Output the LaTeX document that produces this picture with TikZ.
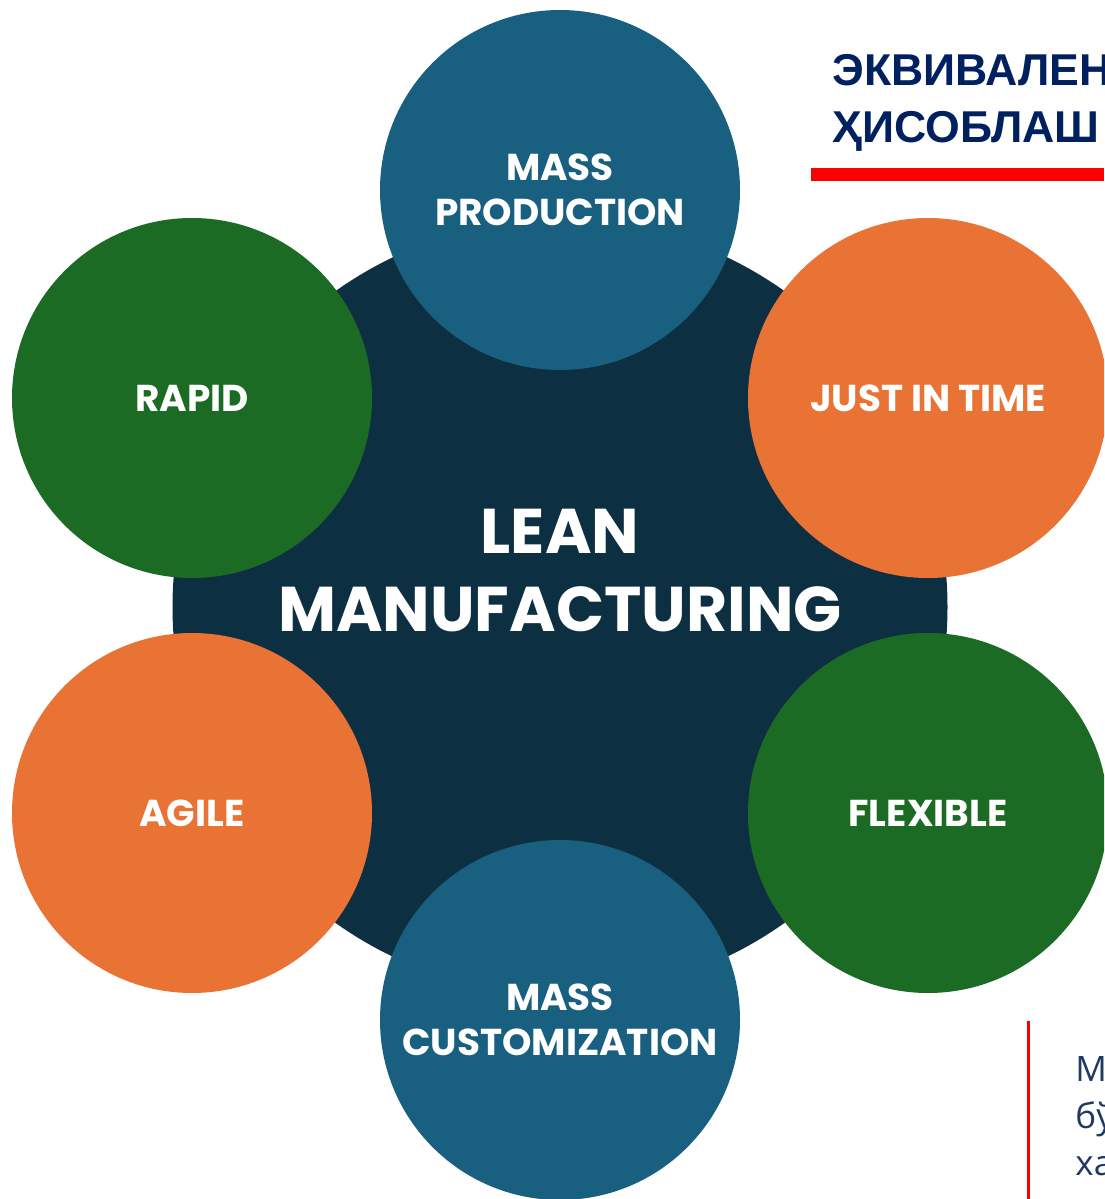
\documentclass[tikz,border=0pt]{standalone}
\usepackage{fontspec}
\setmainfont{Poppins}
\newfontfamily\headfont{Liberation Sans}
\newfontfamily\notefont{Open Sans}

\definecolor{hubdark}{HTML}{0D2F42}
\definecolor{massblue}{HTML}{185F80}
\definecolor{leafgreen}{HTML}{1C6B24}
\definecolor{rustorange}{HTML}{E87334}
\definecolor{headnavy}{HTML}{002060}
\definecolor{notenavy}{HTML}{1F3864}

\begin{document}
\begin{tikzpicture}[x=0.5pt, y=-0.5pt,
    hub/.style={circle, fill=hubdark, inner sep=0pt, minimum size=387.5pt},
    bubble/.style={circle, inner sep=0pt, minimum size=180pt, text=white, align=center,
      font=\bfseries\fontsize{18.7}{22.5}\selectfont}]
  \useasboundingbox (0,0) rectangle (1104,1199);
  \clip (0,0) rectangle (1104,1199);

  % hub and its title
  \node[hub] (lean) at (560,607) {};
  \node[text=white, align=center, font=\bfseries\fontsize{31.6}{39}\selectfont]
    (leantext) at (560,571) {LEAN\\MANUFACTURING};

  % the six ways round it
  \node[bubble, fill=massblue] (massprod) at (560,190) {MASS\\PRODUCTION};
  \node[bubble, fill=rustorange] (jit) at (928,398) {JUST IN TIME};
  \node[bubble, fill=leafgreen] (flexible) at (928,813) {FLEXIBLE};
  \node[bubble, fill=massblue] (masscust) at (560,1020) {MASS\\CUSTOMIZATION};
  \node[bubble, fill=rustorange] (agile) at (192,813) {AGILE};
  \node[bubble, fill=leafgreen] (rapid) at (192,398) {RAPID};

  % slide heading, cut off at the edge
  \node[anchor=base west, inner sep=0pt, text=headnavy, align=left,
    font=\headfont\bfseries\fontsize{22.3}{28.5}\selectfont]
    (heading) at (832,142) {ЭКВИВАЛЕН\\ҲИСОБЛАШ};
  \fill[red] (811,168) rectangle (1104,181);

  % note box, cut off at the edge
  \draw[red, line width=1.5pt] (1028,1021) -- (1028,1199);
  \node[anchor=base west, inner sep=0pt, text=notenavy, align=left,
    font=\notefont\fontsize{17.5}{23.5}\selectfont]
    (note) at (1075,1175) {М\\бў\\ха};
\end{tikzpicture}
\end{document}
